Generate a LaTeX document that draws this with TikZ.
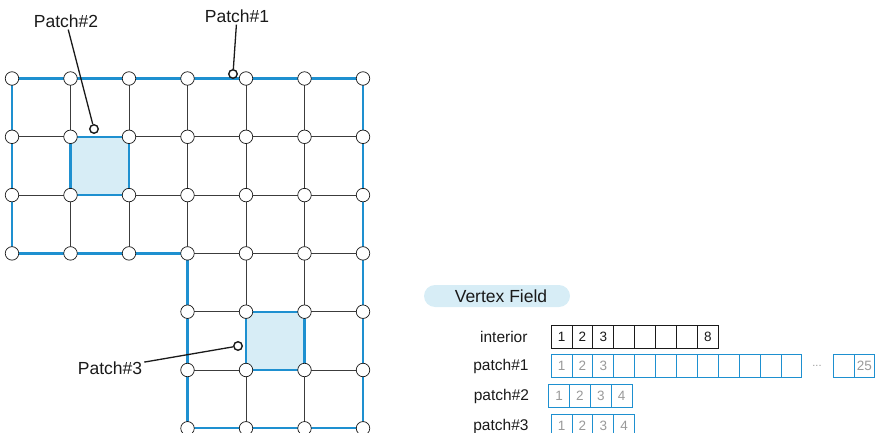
\documentclass[tikz,border=0pt]{standalone}
\usepackage{fontspec}
\setmainfont{Liberation Sans}
\usetikzlibrary{positioning,backgrounds}
\definecolor{PatchBlue}{HTML}{1E90D0}
\definecolor{PatchFill}{HTML}{D7EDF6}
\definecolor{Ink}{HTML}{1A1A1A}
\definecolor{Faded}{HTML}{999999}

\begin{document}
\begin{tikzpicture}[x=1pt,y=-1pt,
  vertex/.style={circle,draw=Ink,fill=white,inner sep=0pt,minimum size=13.5pt,line width=0.7pt},
  mesh/.style={draw=Ink!85,line width=0.9pt},
  boundary/.style={draw=PatchBlue,line width=2.2pt,line join=miter},
  patch/.style={fill=PatchFill,draw=PatchBlue,line width=2.2pt},
  pinmark/.style={circle,draw=Ink,fill=white,line width=1.4pt,inner sep=0pt,minimum size=8.5pt},
  leader/.style={Ink,line width=1.3pt},
  tag/.style={font=\fontsize{17.5}{20}\selectfont,text=Ink,inner sep=2pt},
  rowtag/.style={font=\fontsize{15.5}{18}\selectfont,text=Ink,anchor=east},
  arrcell/.style={draw=Ink,line width=0.8pt,minimum width=20.9pt,minimum height=23.5pt,
    inner sep=0pt,outer sep=0pt,font=\fontsize{13.5}{15}\selectfont,text=Ink},
  pcell/.style={arrcell,draw=PatchBlue,text=Faded}
]
\useasboundingbox (0,0) rectangle (875,433);

% mesh vertices (L-shaped domain)
\foreach \r in {0,...,3}
  \foreach \c in {0,...,6}
    \node[vertex] (v\r\c) at ({12+58.5*\c},{78.5+58.3*\r}) {};
\foreach \r in {4,...,6}
  \foreach \c in {3,...,6}
    \node[vertex] (v\r\c) at ({12+58.5*\c},{78.5+58.3*\r}) {};

\begin{scope}[on background layer]
  % cell edges
  \foreach \r in {0,...,3}
    \foreach \c [count=\d from 1] in {0,...,5}
      \draw[mesh] (v\r\c.center) -- (v\r\d.center);
  \foreach \r in {4,...,6}
    \foreach \c [count=\d from 4] in {3,...,5}
      \draw[mesh] (v\r\c.center) -- (v\r\d.center);
  \foreach \r [count=\s from 1] in {0,...,2}
    \foreach \c in {0,...,6}
      \draw[mesh] (v\r\c.center) -- (v\s\c.center);
  \foreach \r [count=\s from 4] in {3,...,5}
    \foreach \c in {3,...,6}
      \draw[mesh] (v\r\c.center) -- (v\s\c.center);
  % patches
  \draw[patch] (v11.center) rectangle (v22.center);
  \draw[patch] (v44.center) rectangle (v55.center);
  \draw[boundary] (v00.center) -- (v06.center) -- (v66.center) -- (v63.center)
    -- (v33.center) -- (v30.center) -- cycle;
\end{scope}

% patch labels
\node[pinmark] (p1) at (233,74) {};
\node[pinmark] (p2) at (94,129) {};
\node[pinmark] (p3) at (238,346) {};
\node[tag] (t1) at (237,16) {Patch\#1};
\node[tag] (t2) at (66,21) {Patch\#2};
\node[tag] (t3) at (110,368) {Patch\#3};
\draw[leader] (t1) -- (p1);
\draw[leader] (t2) -- (p2);
\draw[leader] (t3) -- (p3);

% vertex field storage
\node[fill=PatchFill,rounded corners=11pt,minimum width=146pt,minimum height=22pt,
  inner sep=0pt,font=\fontsize{17.5}{20}\selectfont,text=Ink] (vf) at (497,296) {\hspace{8pt}Vertex Field};

\node[arrcell] (in1) at (561.5,337) {1};
\foreach \i/\t [count=\j from 1] in {2/2,3/3,4/,5/,6/,7/,8/8}
  \node[arrcell,right=0pt of in\j] (in\i) {\t};
\node[rowtag,left=20pt of in1] (lin) {interior};

\node[pcell] (pa1) at (561.5,366) {1};
\foreach \i/\t [count=\j from 1] in {2/2,3/3,4/,5/,6/,7/,8/,9/,10/,11/,12/}
  \node[pcell,right=0pt of pa\j] (pa\i) {\t};
\node[font=\fontsize{11}{13}\selectfont,text=Faded] (dots) at (817,366) {...};
\node[pcell] (pa24) at (843.5,366) {};
\node[pcell,right=0pt of pa24] (pa25) {25};
\node[rowtag,left=19pt of pa1] (lpa) {patch\#1};

\node[pcell] (pb1) at (559,396) {1};
\foreach \i [count=\j from 1] in {2,3,4}
  \node[pcell,right=0pt of pb\j] (pb\i) {\i};
\node[rowtag,left=16pt of pb1] (lpb) {patch\#2};

\node[pcell] (pc1) at (561.5,426) {1};
\foreach \i [count=\j from 1] in {2,3,4}
  \node[pcell,right=0pt of pc\j] (pc\i) {\i};
\node[rowtag,left=19pt of pc1] (lpc) {patch\#3};
\end{tikzpicture}
\end{document}
